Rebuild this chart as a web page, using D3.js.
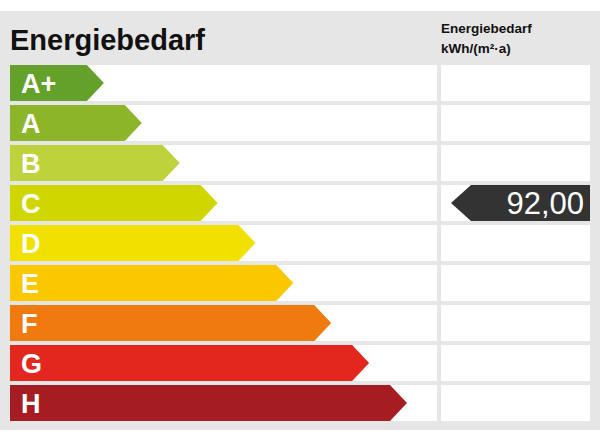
<!DOCTYPE html><html><head><meta charset="utf-8"><script src="https://cdn.jsdelivr.net/npm/d3@7"></script>
<style>body{margin:0;background:#fff}</style></head><body><svg id="c" width="600" height="443"></svg><script>
const classes=["A+","A","B","C","D","E","F","G","H"];
const colors=["#63a12b","#8cb52a","#bed33b","#cfd600","#f2e000","#fbc800","#ee7a10","#e3261e","#a51d22"];
const barLengths=[1,2,3,4,5,6,7,8,9];
const currentClass="C";
const currentValue="92,00";
const title="Energiebedarf";
const unitLines=["Energiebedarf","kWh/(m²·a)"];
const svg=d3.select("#c");
svg.append("rect").attr("x",0).attr("y",11).attr("width",600).attr("height",419).attr("fill","#e6e6e6");
const y=d3.scaleBand().domain(classes).range([63,423]).paddingInner(0.1).paddingOuter(0.05);
const x=d3.scaleLinear().domain([0,9]).range([66,407]);
svg.append("text").attr("x",10).attr("y",50).text(title).attr("font-family","Liberation Sans, Arial").attr("font-weight","bold").attr("font-size",29).attr("fill","#111");
unitLines.forEach((t,i)=>svg.append("text").attr("x",441).attr("y",33+i*20).text(t).attr("font-family","Liberation Sans, Arial").attr("font-weight","bold").attr("font-size",13.5).attr("fill","#111"));
classes.forEach((c,i)=>{
 const t=y(c),h=y.bandwidth();
 svg.append("rect").attr("x",10).attr("y",t).attr("width",427).attr("height",h).attr("fill","#fff");
 svg.append("rect").attr("x",441).attr("y",t).attr("width",149).attr("height",h).attr("fill","#fff");
 const tip=x(barLengths[i]);
 svg.append("path").attr("d",`M10,${t}H${tip-17}L${tip},${t+h/2}L${tip-17},${t+h}H10Z`).attr("fill",colors[i]);
 svg.append("text").attr("x",21).attr("y",t+h/2+10).text(c).attr("font-family","Liberation Sans, Arial").attr("font-weight","bold").attr("font-size",27).attr("fill","#fff");
 if(c===currentClass){
  svg.append("path").attr("d",`M451,${t+h/2}L471,${t}H590V${t+h}H471Z`).attr("fill","#333");
  svg.append("text").attr("x",584).attr("y",t+h/2+11).attr("text-anchor","end").text(currentValue).attr("font-family","Liberation Sans, Arial").attr("font-size",31).attr("fill","#fff");
 }
});
</script></body></html>
